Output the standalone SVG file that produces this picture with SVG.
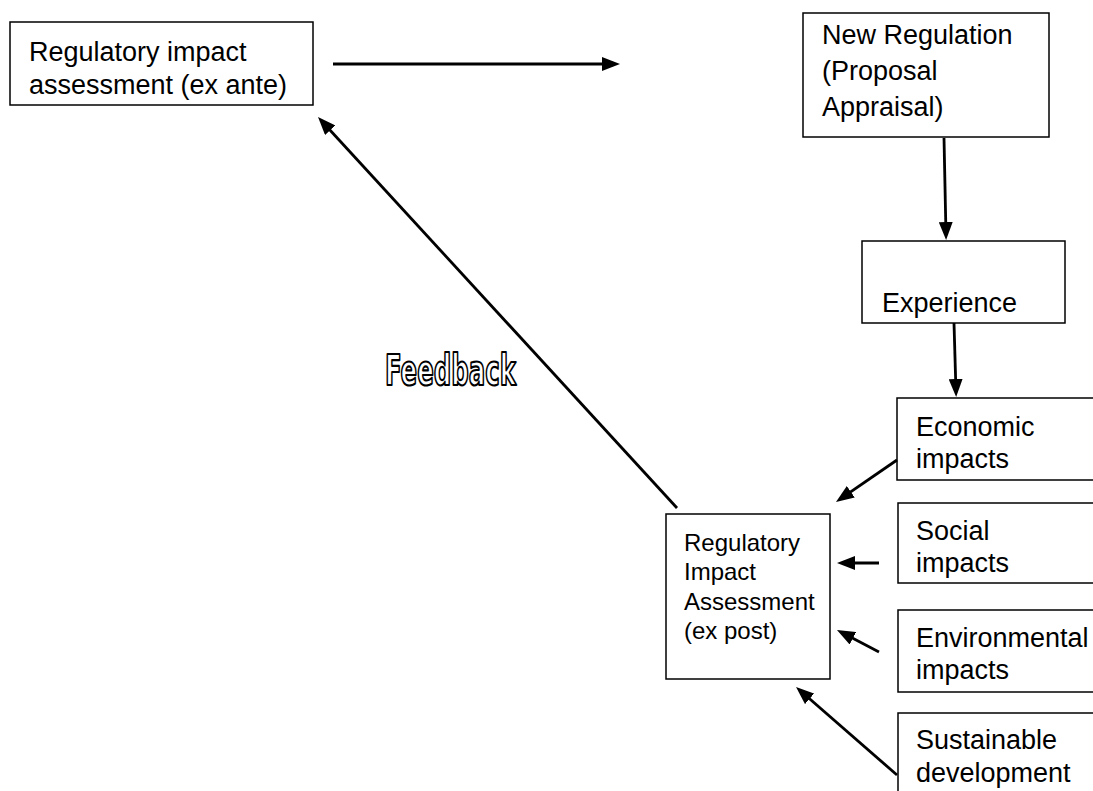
<svg xmlns="http://www.w3.org/2000/svg" width="1093" height="791" viewBox="0 0 1093 791">
<style>
  .box { fill: #ffffff; stroke: #000000; stroke-width: 1.5; }
  .t { font-family: "Liberation Sans", Arial, sans-serif; font-size: 27px; fill: #000000; }
  .ts { font-family: "Liberation Sans", Arial, sans-serif; font-size: 24px; fill: #000000; }
  .arr { stroke: #000000; stroke-width: 2.8; fill: none; marker-end: url(#ah); }
  .wordart { font-family: "Liberation Sans Narrow", "DejaVu Sans Condensed", "Liberation Sans", sans-serif; font-weight: bold; font-size: 43px; fill: #ffffff; stroke: #000000; stroke-width: 2.2; stroke-linejoin: round; }
</style>
<defs>
  <marker id="ah" markerUnits="userSpaceOnUse" markerWidth="18" markerHeight="14" refX="13" refY="7" orient="auto">
    <path d="M0,0 L18,7 L0,14 z" fill="#000000"/>
  </marker>
</defs>
<rect x="0" y="0" width="1093" height="791" fill="#ffffff"/>

<g id="ria-ex-ante">
  <rect class="box" x="10" y="22" width="303" height="83"/>
  <text class="t" x="29" y="61">Regulatory impact</text>
  <text class="t" x="29" y="94">assessment (ex ante)</text>
</g>

<g id="new-regulation">
  <rect class="box" x="803" y="13" width="246" height="124"/>
  <text class="t" x="822" y="44">New Regulation</text>
  <text class="t" x="822" y="80">(Proposal</text>
  <text class="t" x="822" y="116">Appraisal)</text>
</g>

<g id="experience">
  <rect class="box" x="862" y="241" width="203" height="82"/>
  <text class="t" x="882" y="312">Experience</text>
</g>

<g id="economic">
  <rect class="box" x="897" y="398" width="210" height="82"/>
  <text class="t" x="916" y="436">Economic</text>
  <text class="t" x="916" y="468">impacts</text>
</g>

<g id="social">
  <rect class="box" x="898" y="503" width="210" height="80"/>
  <text class="t" x="916" y="540">Social</text>
  <text class="t" x="916" y="572">impacts</text>
</g>

<g id="environmental">
  <rect class="box" x="898" y="610" width="210" height="82"/>
  <text class="t" x="916" y="647">Environmental</text>
  <text class="t" x="916" y="679">impacts</text>
</g>

<g id="sustainable">
  <rect class="box" x="898" y="713" width="210" height="100"/>
  <text class="t" x="916" y="749">Sustainable</text>
  <text class="t" x="916" y="782">development</text>
</g>

<g id="ria-ex-post">
  <rect class="box" x="666" y="514" width="164" height="165"/>
  <text class="ts" x="684" y="551">Regulatory</text>
  <text class="ts" x="684" y="580">Impact</text>
  <text class="ts" x="684" y="610">Assessment</text>
  <text class="ts" x="684" y="639">(ex post)</text>
</g>

<g id="feedback-label">
  <text class="wordart" x="385" y="385" textLength="131" lengthAdjust="spacingAndGlyphs">Feedback</text>
</g>

<g id="connectors">
  <line class="arr" x1="333" y1="64" x2="615" y2="64"/>
  <line class="arr" x1="944" y1="138" x2="946" y2="235"/>
  <line class="arr" x1="954" y1="323" x2="956" y2="392"/>
  <line class="arr" x1="677" y1="508" x2="321.4" y2="120.7"/>
  <line class="arr" x1="897" y1="460" x2="840.1" y2="499.2"/>
  <line class="arr" x1="879" y1="563" x2="842" y2="563"/>
  <line class="arr" x1="879" y1="652" x2="841.4" y2="632.3"/>
  <line class="arr" x1="897" y1="775" x2="799.8" y2="690.3"/>
</g>
</svg>
